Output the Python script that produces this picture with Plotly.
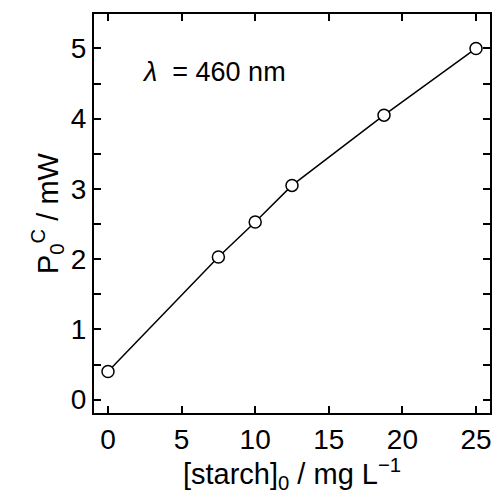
import plotly.graph_objects as go

starch = [0, 7.5, 10, 12.5, 18.75, 25]
power = [0.40, 2.03, 2.53, 3.05, 4.05, 5.00]

FONT = "Liberation Sans"

fig = go.Figure()
fig.add_trace(go.Scatter(
    x=starch, y=power, mode="lines+markers",
    line=dict(color="black", width=1.5),
    marker=dict(symbol="circle", size=12, color="white",
                line=dict(color="black", width=1.5)),
    showlegend=False,
))

fig.add_annotation(x=7.18, y=4.67, xref="x", yref="y", showarrow=False,
                   text="<i>λ</i>  = 460 nm", font=dict(size=27, family=FONT, color="black"))

axis_common = dict(showline=True, linecolor="black", linewidth=2, mirror="ticks",
                   ticks="inside", ticklen=7, tickwidth=1.5, tickcolor="black",
                   showgrid=False, zeroline=False,
                   tickfont=dict(size=28, family=FONT, color="black"))

fig.update_xaxes(range=[-0.95, 25.95], tickvals=[0, 5, 10, 15, 20, 25],
                 title=dict(text="[starch]<sub>0</sub> / mg L<sup>−1</sup>",
                            font=dict(size=29, family=FONT, color="black"), standoff=0),
                 **axis_common)
fig.update_yaxes(range=[-0.19, 5.49], tickvals=[0, 1, 2, 3, 4, 5],
                 minor=dict(dtick=0.5, ticks="inside", ticklen=7, tickcolor="black", tickwidth=1.5),
                 title=dict(text="P<sub>0</sub><sup>C</sup> / mW",
                            font=dict(size=29, family=FONT, color="black"), standoff=4),
                 **axis_common)

fig.update_layout(width=494, height=494, margin=dict(l=94, r=2, t=14, b=81),
                  paper_bgcolor="white", plot_bgcolor="white")

fig.write_html("out.html")
